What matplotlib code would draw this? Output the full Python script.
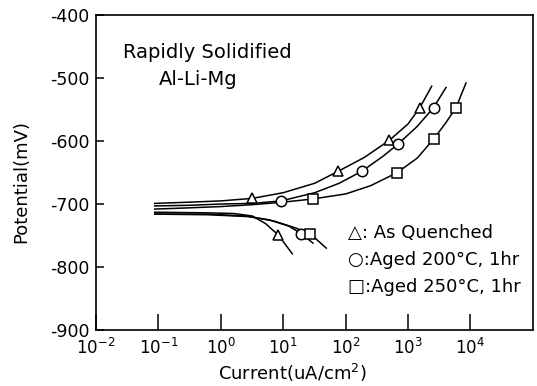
from matplotlib import pyplot as plt
from matplotlib.ticker import LogFormatterMathtext, FixedLocator, NullLocator

plt.rcParams['axes.unicode_minus'] = False
plt.rcParams['font.family'] = 'DejaVu Sans'

# anodic branches (current uA/cm2, potential mV)
aq_an_i = [0.087, 0.32, 1.0, 3.2, 10, 32, 76, 200, 500, 1000, 1550, 2400]
aq_an_e = [-699, -697, -695, -691, -682, -667, -648, -626, -599, -573, -547, -513]
a200_an_i = [0.087, 0.32, 1.0, 3.2, 9.3, 32, 79, 182, 400, 690, 1400, 2570, 4070]
a200_an_e = [-703, -702, -700, -699, -695, -682, -667, -648, -624, -605, -577, -547, -515]
a250_an_i = [0.087, 0.32, 1.0, 3.2, 10, 29.5, 100, 250, 676, 1410, 2570, 3980, 5890, 8510]
a250_an_e = [-708, -706, -704, -701, -697, -692, -684, -671, -650, -627, -597, -572, -547, -508]

# cathodic branches
aq_ca_i = [0.087, 0.63, 1.6, 3.2, 5.2, 8.3, 14]
aq_ca_e = [-713, -714, -715, -719, -731, -749, -779]
a200_ca_i = [0.087, 0.63, 2.5, 5.9, 12.3, 19.5, 30]
a200_ca_e = [-716, -716, -719, -725, -735, -747, -762]
a250_ca_i = [0.087, 0.63, 2.8, 7.1, 15.8, 27, 49]
a250_ca_e = [-716, -717, -720, -727, -738, -747, -770]

# measured points (markers)
aq_pt_i = [3.2, 76, 500, 1550, 8.3]
aq_pt_e = [-691, -648, -599, -547, -749]
a200_pt_i = [9.3, 182, 690, 2570, 19.5]
a200_pt_e = [-695, -648, -605, -547, -747]
a250_pt_i = [29.5, 676, 2570, 5890, 27]
a250_pt_e = [-692, -650, -597, -547, -747]

legend_lines = ['\u25b3: As Quenched', '\u25cb:Aged 200\u00b0C, 1hr', '\u25a1:Aged 250\u00b0C, 1hr']

fig = plt.figure(figsize=(5.37, 3.86), dpi=100)
ax = fig.add_axes([0.179, 0.145, 0.813, 0.816])

for i, e in [(aq_an_i, aq_an_e), (a200_an_i, a200_an_e), (a250_an_i, a250_an_e),
             (aq_ca_i, aq_ca_e), (a200_ca_i, a200_ca_e), (a250_ca_i, a250_ca_e)]:
    ax.plot(i, e, color='black', lw=1.1)

ax.plot(aq_pt_i, aq_pt_e, ls='none', marker='^', ms=6.5, mfc='white', mec='black', mew=1.1)
ax.plot(a200_pt_i, a200_pt_e, ls='none', marker='o', ms=7.5, mfc='white', mec='black', mew=1.1)
ax.plot(a250_pt_i, a250_pt_e, ls='none', marker='s', ms=7, mfc='white', mec='black', mew=1.1)

ax.set_xscale('log')
ax.set_xlim(1e-2, 1e5)
ax.set_ylim(-900, -400)
ax.xaxis.set_major_locator(FixedLocator([1e-2, 1e-1, 1e0, 1e1, 1e2, 1e3, 1e4]))
ax.xaxis.set_major_formatter(LogFormatterMathtext())
ax.xaxis.set_minor_locator(NullLocator())
ax.set_yticks([-900, -800, -700, -600, -500, -400])
ax.tick_params(axis='x', direction='in', length=11.5, width=1.1, labelsize=12, pad=6)
ax.tick_params(axis='y', direction='in', length=5.5, width=1.1, labelsize=12.5, pad=5)
for s in ax.spines.values():
    s.set_linewidth(1.2)

ax.set_xlabel('Current(uA/cm$^2$)', fontsize=13)
ax.xaxis.set_label_coords(0.449, -0.1)
ax.set_ylabel('Potential(mV)', fontsize=13)
ax.yaxis.set_label_coords(-0.15, 0.47)

ax.text(0.061, 0.88, 'Rapidly Solidified', transform=ax.transAxes, fontsize=14, va='center')
ax.text(0.143, 0.794, 'Al-Li-Mg', transform=ax.transAxes, fontsize=14, va='center')

for k, s in enumerate(legend_lines):
    ax.text(0.577, 0.308 - k * 0.086, s, transform=ax.transAxes, fontsize=13, va='center')

plt.savefig('out.png', dpi=100)
